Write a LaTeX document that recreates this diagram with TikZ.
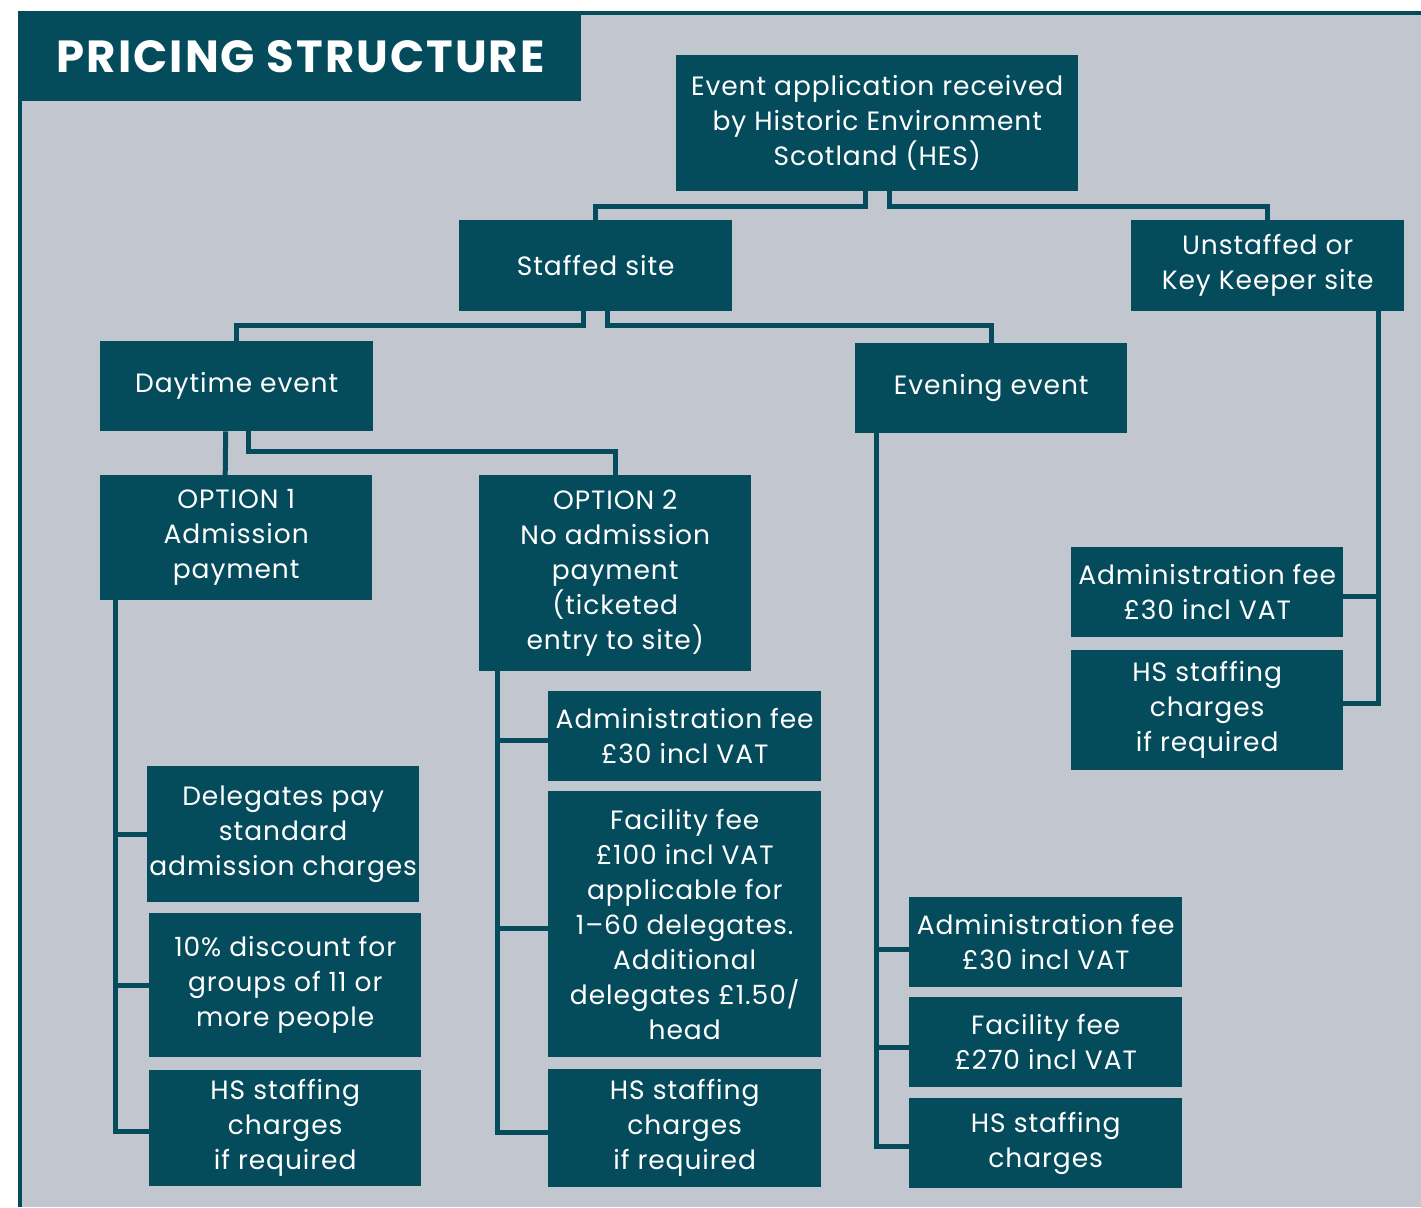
\documentclass[tikz,border=0pt]{standalone}
\usepackage{fontspec}
\setmainfont{Poppins}[LetterSpace=3.5]
\newfontfamily\titlefont{Poppins}[LetterSpace=4.5]
\definecolor{hesteal}{HTML}{044B5C}
\definecolor{hesgrey}{HTML}{C2C6CE}
\tikzset{
  box/.style={fill=hesteal, text=white, align=center, anchor=north west,
    inner sep=0pt, font=\fontsize{26.5}{35}\selectfont},
  link/.style={draw=hesteal, line width=5pt},
}
\begin{document}
\begin{tikzpicture}[x=1pt, y=-1pt]
    \useasboundingbox (0,0) rectangle (1421,1207);

    % --- panel and frame ---
    \fill[hesgrey] (20,13) rectangle (1421,1207);
    \draw[hesteal, line width=4pt] (20,1207) -- (20,13.5) -- (1421,13.5);
    \node[box, minimum width=561pt, minimum height=89pt,
      font=\titlefont\fontsize{45}{50}\selectfont\bfseries] (title) at (20,12) {PRICING STRUCTURE};

    % --- top levels ---
    \node[box, minimum width=402pt, minimum height=136pt] (event) at (676,55)
      {Event application received\\by Historic Environment\\Scotland (HES)};
    \node[box, minimum width=273pt, minimum height=91pt] (staffed) at (459,220) {Staffed site};
    \node[box, minimum width=273pt, minimum height=91pt] (unstaffed) at (1131,220)
      {Unstaffed or\\Key Keeper site};
    \node[box, minimum width=273pt, minimum height=90pt] (day) at (100,341) {Daytime event};
    \node[box, minimum width=272pt, minimum height=90pt] (evening) at (855,343) {Evening event};

    % --- options ---
    \node[box, minimum width=272pt, minimum height=125pt] (opt1) at (100,475)
      {OPTION 1\\Admission\\payment};
    \node[box, minimum width=272pt, minimum height=196pt] (opt2) at (479,475)
      {OPTION 2\\No admission\\payment\\(ticketed\\entry to site)};

    % --- option 1 charges ---
    \node[box, minimum width=272pt, minimum height=136pt] (deleg) at (147,766)
      {Delegates pay\\standard\\admission charges};
    \node[box, minimum width=272pt, minimum height=144pt] (disc) at (149,913)
      {10\% discount for\\groups of 11 or\\more people};
    \node[box, minimum width=272pt, minimum height=116pt] (hsone) at (149,1070)
      {HS staffing\\charges\\if required};

    % --- option 2 charges ---
    \node[box, minimum width=273pt, minimum height=90pt] (admintwo) at (548,691)
      {Administration fee\\£30 incl VAT};
    \node[box, minimum width=273pt, minimum height=266pt] (factwo) at (548,791)
      {Facility fee\\£100 incl VAT\\applicable for\\1–60 delegates.\\Additional\\delegates £1.50/\\head};
    \node[box, minimum width=273pt, minimum height=118pt] (hstwo) at (548,1069)
      {HS staffing\\charges\\if required};

    % --- evening charges ---
    \node[box, minimum width=273pt, minimum height=90pt] (adminev) at (909,897)
      {Administration fee\\£30 incl VAT};
    \node[box, minimum width=273pt, minimum height=90pt] (facev) at (909,997)
      {Facility fee\\£270 incl VAT};
    \node[box, minimum width=273pt, minimum height=90pt] (hsev) at (909,1098)
      {HS staffing\\charges};

    % --- unstaffed charges ---
    \node[box, minimum width=272pt, minimum height=90pt] (adminun) at (1071,547)
      {Administration fee\\£30 incl VAT};
    \node[box, minimum width=272pt, minimum height=120pt] (hsun) at (1071,650)
      {HS staffing\\charges\\if required};

    % --- connectors ---
    \draw[link] ([xshift=-12pt]event.south) -- ++(0,15) -| (staffed.north);
    \draw[link] ([xshift=12pt]event.south) -- ++(0,15) -| (unstaffed.north);
    \draw[link] ([xshift=-12pt]staffed.south) -- ++(0,14) -| (day.north);
    \draw[link] ([xshift=12pt]staffed.south) -- ++(0,14) -| (evening.north);
    \draw[link] ([xshift=-11pt]day.south) -- ([xshift=-11pt]opt1.north);
    \draw[link] ([xshift=12pt]day.south) -- ++(0,20) -| (opt2.north);

    % trunks
    \draw[link] ([xshift=15pt]opt1.south west) |- (deleg.west);
    \draw[link] ([xshift=15pt]opt1.south west) |- (disc.west);
    \draw[link] ([xshift=15pt]opt1.south west) |- ([yshift=-3pt]hsone.west);
    \draw[link] ([xshift=18pt]opt2.south west) |- ([yshift=-4pt]admintwo.west);
    \draw[link] ([xshift=18pt]opt2.south west) |- ([yshift=-4pt]factwo.west);
    \draw[link] ([xshift=18pt]opt2.south west) |- ([yshift=-4pt]hstwo.west);
    \draw[link] ([xshift=21pt]evening.south west) |- ([yshift=-7pt]adminev.west);
    \draw[link] ([xshift=21pt]evening.south west) |- ([yshift=-5pt]facev.west);
    \draw[link] ([xshift=21pt]evening.south west) |- ([yshift=-3pt]hsev.west);
    \draw[link] ([xshift=-26pt]unstaffed.south east) |- ([yshift=-4pt]adminun.east);
    \draw[link] ([xshift=-26pt]unstaffed.south east) |- ([yshift=7pt]hsun.east);
\end{tikzpicture}
\end{document}
